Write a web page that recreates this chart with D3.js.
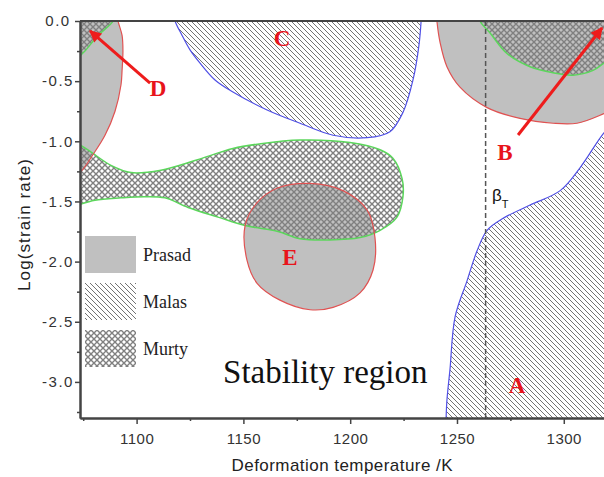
<!DOCTYPE html>
<html>
<head>
<meta charset="utf-8">
<script src="https://cdn.jsdelivr.net/npm/d3@7"></script>
<style>
  body { margin: 0; background: #fff; }
  svg { display: block; }
</style>
</head>
<body>
<div id="chart"></div>
<script>
// Axis domains and ticks
var xDomain = [1073.5, 1320];
var yDomain = [-3.3, 0];
var xTicks = [1100, 1150, 1200, 1250, 1300];
var xMinorTicks = [1075, 1125, 1175, 1225, 1275];
var yTicks = [0, -0.5, -1.0, -1.5, -2.0, -2.5, -3.0];
var yMinorTicks = [-0.25, -0.75, -1.25, -1.75, -2.25, -2.75, -3.25];

// beta transus temperature (K)
var betaT = 1263.4;

// Prasad regions (grey) - [temperature, log strain rate]
var prasadD = [[1090.8, 0.06], [1091.3, 0], [1093.2, -0.12], [1093.6, -0.25], [1093.2, -0.41], [1092.7, -0.53],
               [1089.9, -0.75], [1085.2, -0.95], [1079.6, -1.11], [1074.0, -1.25], [1070.0, -1.29]];
var prasadB = [[1240.4, 0.06], [1240.6, 0], [1242.1, -0.18], [1245.3, -0.38], [1251.4, -0.55], [1264.1, -0.72],
               [1279.5, -0.81], [1295.0, -0.85], [1306.2, -0.85], [1318.8, -0.77], [1326.0, -0.71]];
var prasadE = [[1150.8, -1.70], [1156.4, -1.51], [1165.7, -1.39], [1181.2, -1.35], [1196.6, -1.41], [1207.9, -1.57],
               [1211.6, -1.80], [1210.7, -2.07], [1204.6, -2.26], [1192.0, -2.38], [1181.2, -2.40], [1167.1, -2.32],
               [1156.4, -2.18], [1151.7, -1.99]];

// Malas regions (hatched)
var malasC = [[1117.5, 0.06], [1118.0, 0], [1121.3, -0.12], [1125.0, -0.24], [1129.7, -0.35], [1136.7, -0.49],
              [1145.1, -0.59], [1161.1, -0.74], [1176.5, -0.85], [1192.0, -0.95], [1207.9, -0.97], [1218.6, -0.92],
              [1224.7, -0.76], [1229.4, -0.49], [1232.2, -0.20], [1233.2, 0], [1233.3, 0.06]];
var malasA = [[1244.8, -3.36], [1244.9, -3.30], [1245.3, -3.15], [1246.7, -2.90], [1249.1, -2.46], [1254.7, -2.16],
              [1259.4, -1.91], [1264.1, -1.74], [1271.6, -1.64], [1284.2, -1.53], [1298.3, -1.41], [1307.6, -1.22],
              [1318.8, -0.93], [1325.0, -0.82]];

// Murty regions (cross hatched)
var murtyD = [[1089.5, 0.06], [1089.0, 0], [1081.9, -0.12], [1075.8, -0.25], [1073.5, -0.29], [1071.0, -0.33]];
var murtyB = [[1260.5, 0.06], [1260.8, 0], [1265.5, -0.10], [1273.4, -0.27], [1284.2, -0.38], [1295.0, -0.43],
              [1304.3, -0.45], [1313.7, -0.41], [1318.8, -0.35], [1325.0, -0.28]];
var murtyLobe = [[1066.0, -0.97], [1072.5, -1.02], [1078.7, -1.09], [1088.0, -1.20], [1097.4, -1.26], [1111.4, -1.24],
                 [1127.3, -1.16], [1145.1, -1.06], [1158.2, -1.02], [1176.5, -0.99], [1199.9, -1.01], [1214.0, -1.07],
                 [1220.0, -1.14], [1224.3, -1.31], [1224.7, -1.46], [1221.9, -1.63], [1214.0, -1.74], [1204.6, -1.80],
                 [1190.5, -1.82], [1176.5, -1.81], [1166.2, -1.75], [1150.8, -1.70], [1138.1, -1.63], [1124.1, -1.55],
                 [1113.3, -1.47], [1103.9, -1.46], [1092.7, -1.47], [1080.5, -1.49], [1072.5, -1.53], [1066.0, -1.57]];

// Region letters and arrows
var letters = ["A", "B", "C", "D", "E"];
var letterPos = [[1278.1, -3.095], [1272.5, -1.156], [1168.1, -0.208], [1110.0, -0.624], [1171.8, -2.03]];
var arrowD = [[1106.3, -0.516], [1078.2, -0.083]];
var arrowB = [[1278.6, -0.948], [1317.9, -0.058]];

var legendNames = ["Prasad", "Malas", "Murty"];

function init() {
    var w = 604, h = 477;
    var left = 80, top = 21, bottom = 418, right = 606.5;

    var x = d3.scaleLinear().domain(xDomain).range([left, right]);
    var y = d3.scaleLinear().domain(yDomain).range([bottom, top]);

    var svg = d3.select("#chart").append("svg")
        .attr("width", w)
        .attr("height", h);

    var defs = svg.append("defs");
    defs.append("clipPath").attr("id", "plot")
        .append("rect")
        .attr("x", left).attr("y", top)
        .attr("width", right - left).attr("height", bottom - top);

    // hatch for Malas: "\" lines
    defs.append("pattern").attr("id", "malas")
        .attr("patternUnits", "userSpaceOnUse")
        .attr("width", 5).attr("height", 5)
        .append("path")
        .attr("d", "M-1,-1L6,6M-1,4L1,6M4,-1L6,1")
        .attr("stroke", "#737373")
        .attr("stroke-width", 1);

    // cross hatch for Murty
    defs.append("pattern").attr("id", "murty")
        .attr("patternUnits", "userSpaceOnUse")
        .attr("width", 6).attr("height", 6)
        .append("path")
        .attr("d", "M0,0L6,6M6,0L0,6")
        .attr("stroke", "#808080")
        .attr("stroke-width", 1.4);

    var line = d3.line()
        .x(function(d) { return x(d[0]); })
        .y(function(d) { return y(d[1]); })
        .curve(d3.curveCatmullRom.alpha(0.5));
    var closedLine = d3.line()
        .x(function(d) { return x(d[0]); })
        .y(function(d) { return y(d[1]); })
        .curve(d3.curveCatmullRomClosed.alpha(0.5));

    // boundary curve closed through points outside the frame
    function edgeArea(pts, corners) {
        var p = line(pts);
        corners.forEach(function(c) { p += "L" + x(c[0]) + "," + y(c[1]); });
        return p + "Z";
    }

    var plot = svg.append("g").attr("clip-path", "url(#plot)");

    var grey = "#c0c0c0", red = "#e05252", blue = "#5050e6", green = "#5cd65c";

    // Prasad fills
    plot.append("path").attr("d", edgeArea(prasadD, [[1060, -1.3], [1060, 0.1]])).attr("fill", grey);
    plot.append("path").attr("d", edgeArea(prasadB, [[1340, -0.7], [1340, 0.1]])).attr("fill", grey);
    plot.append("path").attr("d", closedLine(prasadE)).attr("fill", grey);

    // Malas fills
    plot.append("path").attr("d", edgeArea(malasC, [])).attr("fill", "url(#malas)");
    plot.append("path").attr("d", edgeArea(malasA, [[1340, -0.82], [1340, -3.45], [1244.8, -3.45]])).attr("fill", "url(#malas)");

    // Murty fills
    plot.append("path").attr("d", edgeArea(murtyD, [[1060, -0.33], [1060, 0.1]])).attr("fill", "url(#murty)");
    plot.append("path").attr("d", edgeArea(murtyB, [[1340, -0.28], [1340, 0.1]])).attr("fill", "url(#murty)");
    plot.append("path").attr("d", edgeArea(murtyLobe, [])).attr("fill", "url(#murty)");

    // outlines
    [malasC, malasA].forEach(function(p) {
        plot.append("path").attr("d", line(p)).attr("fill", "none").attr("stroke", blue).attr("stroke-width", 1.2);
    });
    [murtyD, murtyB].forEach(function(p) {
        plot.append("path").attr("d", line(p)).attr("fill", "none").attr("stroke", green).attr("stroke-width", 1.5);
    });
    plot.append("path").attr("d", line(murtyLobe)).attr("fill", "none").attr("stroke", green).attr("stroke-width", 1.5);
    [prasadD, prasadB].forEach(function(p) {
        plot.append("path").attr("d", line(p)).attr("fill", "none").attr("stroke", red).attr("stroke-width", 1.2);
    });
    plot.append("path").attr("d", closedLine(prasadE)).attr("fill", "none").attr("stroke", red).attr("stroke-width", 1.2);

    // beta transus dashed line
    plot.append("line")
        .attr("x1", x(betaT)).attr("x2", x(betaT))
        .attr("y1", y(0)).attr("y2", y(yDomain[0]))
        .attr("stroke", "#555")
        .attr("stroke-width", 1.5)
        .attr("stroke-dasharray", "5,3");

    // axes
    var axisColor = "#444";
    var xAxis = svg.append("g")
        .attr("transform", "translate(0," + bottom + ")")
        .call(d3.axisBottom(x).tickValues(xTicks).tickSize(6).tickSizeOuter(0).tickPadding(9)
            .tickFormat(d3.format("d")));
    svg.append("g")
        .attr("transform", "translate(0," + bottom + ")")
        .call(d3.axisBottom(x).tickValues(xMinorTicks).tickSize(3).tickSizeOuter(0).tickFormat(""));
    var yAxis = svg.append("g")
        .attr("transform", "translate(" + left + ",0)")
        .call(d3.axisLeft(y).tickValues(yTicks).tickSize(5).tickSizeOuter(0)
            .tickFormat(function(d) { return d3.format(".1f")(d).replace("\u2212", "-"); }));
    svg.append("g")
        .attr("transform", "translate(" + left + ",0)")
        .call(d3.axisLeft(y).tickValues(yMinorTicks).tickSize(3).tickSizeOuter(0).tickFormat(""));

    svg.selectAll(".domain").attr("stroke", axisColor).attr("stroke-width", 2);
    svg.selectAll(".tick line").attr("stroke", axisColor).attr("stroke-width", 1.5);
    xAxis.selectAll("text")
        .style("font-family", "'Liberation Sans', Arial, sans-serif")
        .style("font-size", "15px")
        .style("letter-spacing", "0.5px")
        .attr("fill", "#333");
    yAxis.selectAll("text")
        .attr("x", -22)
        .style("text-anchor", "middle")
        .style("font-family", "'Liberation Sans', Arial, sans-serif")
        .style("font-size", "15px")
        .style("letter-spacing", "1.5px")
        .attr("fill", "#333");

    // top frame line
    svg.append("line")
        .attr("x1", left).attr("x2", w)
        .attr("y1", top).attr("y2", top)
        .attr("stroke", axisColor).attr("stroke-width", 2);

    // axis titles
    svg.append("text")
        .attr("x", 342).attr("y", 471)
        .attr("text-anchor", "middle")
        .attr("textLength", 221)
        .style("font-family", "'Liberation Sans', Arial, sans-serif")
        .style("font-size", "17px")
        .attr("fill", "#222")
        .text("Deformation temperature /K");
    svg.append("text")
        .attr("transform", "translate(30,225) rotate(-90)")
        .attr("text-anchor", "middle")
        .attr("textLength", 132)
        .style("font-family", "'Liberation Sans', Arial, sans-serif")
        .style("font-size", "17px")
        .attr("fill", "#222")
        .text("Log(strain rate)");

    // arrows
    defs.append("marker").attr("id", "head")
        .attr("viewBox", "0 0 10 10")
        .attr("refX", 9).attr("refY", 5)
        .attr("markerWidth", 4.5).attr("markerHeight", 4)
        .attr("markerUnits", "strokeWidth")
        .attr("orient", "auto")
        .append("path").attr("d", "M0,0L10,5L0,10Z").attr("fill", "#ee1c1c");
    [arrowD, arrowB].forEach(function(a) {
        svg.append("line")
            .attr("x1", x(a[0][0])).attr("y1", y(a[0][1]))
            .attr("x2", x(a[1][0])).attr("y2", y(a[1][1]))
            .attr("stroke", "#ee1c1c")
            .attr("stroke-width", 3)
            .attr("marker-end", "url(#head)");
    });

    // region letters
    svg.selectAll(".letter")
        .data(letters)
        .enter()
        .append("text")
        .attr("class", "letter")
        .attr("x", function(d, i) { return x(letterPos[i][0]); })
        .attr("y", function(d, i) { return y(letterPos[i][1]); })
        .attr("text-anchor", "middle")
        .style("font-family", "'Liberation Serif', 'Times New Roman', serif")
        .style("font-weight", "bold")
        .style("font-size", "23px")
        .attr("fill", "#e8141b")
        .text(function(d) { return d; });

    // beta_T label
    var bt = svg.append("text")
        .attr("x", x(1266.4)).attr("y", y(-1.497))
        .style("font-family", "'Liberation Sans', Arial, sans-serif")
        .style("font-size", "17px")
        .attr("fill", "#111");
    bt.append("tspan").text("\u03b2");
    bt.append("tspan").attr("dy", 7).style("font-size", "11px").text("T");

    // Stability region
    svg.append("text")
        .attr("x", x(1140.5)).attr("y", y(-3.011))
        .style("font-family", "'Liberation Serif', 'Times New Roman', serif")
        .style("font-size", "33px")
        .attr("fill", "#111")
        .text("Stability region");

    // legend
    var fills = [grey, "url(#malas)", "url(#murty)"];
    var legend = svg.selectAll(".legend")
        .data(legendNames)
        .enter()
        .append("g")
        .attr("class", "legend")
        .attr("transform", function(d, i) { return "translate(" + (left + 5) + "," + (236 + i * 47) + ")"; });
    legend.append("rect")
        .attr("width", 51)
        .attr("height", 37)
        .attr("fill", function(d, i) { return fills[i]; });
    legend.append("text")
        .attr("x", 58)
        .attr("y", 25)
        .style("font-family", "'Liberation Serif', 'Times New Roman', serif")
        .style("font-size", "18px")
        .attr("fill", "#222")
        .text(function(d) { return d; });
}

window.onload = init;
</script>
</body>
</html>
